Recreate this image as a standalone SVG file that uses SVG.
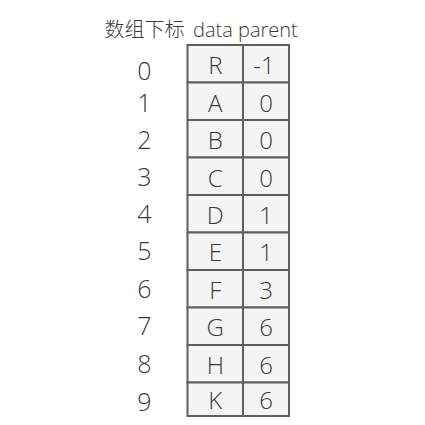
<svg xmlns="http://www.w3.org/2000/svg" width="425" height="425" viewBox="0 0 425 425">
<style>
.t{font-family:"Open Sans","Noto Sans CJK SC",sans-serif;fill:#3a3a3a;font-weight:350}
.h{font-size:20px}
.k{font-weight:300}
.i{font-size:25px;text-anchor:middle}
.c{font-size:24px;text-anchor:middle}
.cell{fill:#f4f4f4;stroke:#5f5f5f;stroke-width:2}
</style>
<rect width="425" height="425" fill="#ffffff"/>
<text class="t h" x="104.5" y="37"><tspan class="k">数组下标</tspan> <tspan x="193">data parent</tspan></text>
<g id="table">
<rect class="cell" x="187.5" y="45" width="55.5" height="37.5"/><rect class="cell" x="243" y="45" width="46" height="37.5"/>
<rect class="cell" x="187.5" y="82.5" width="55.5" height="37.5"/><rect class="cell" x="243" y="82.5" width="46" height="37.5"/>
<rect class="cell" x="187.5" y="120" width="55.5" height="37.5"/><rect class="cell" x="243" y="120" width="46" height="37.5"/>
<rect class="cell" x="187.5" y="157.5" width="55.5" height="37.5"/><rect class="cell" x="243" y="157.5" width="46" height="37.5"/>
<rect class="cell" x="187.5" y="195" width="55.5" height="37.5"/><rect class="cell" x="243" y="195" width="46" height="37.5"/>
<rect class="cell" x="187.5" y="232.5" width="55.5" height="37.5"/><rect class="cell" x="243" y="232.5" width="46" height="37.5"/>
<rect class="cell" x="187.5" y="270" width="55.5" height="37.5"/><rect class="cell" x="243" y="270" width="46" height="37.5"/>
<rect class="cell" x="187.5" y="307.5" width="55.5" height="37.5"/><rect class="cell" x="243" y="307.5" width="46" height="37.5"/>
<rect class="cell" x="187.5" y="345" width="55.5" height="37.5"/><rect class="cell" x="243" y="345" width="46" height="37.5"/>
<rect class="cell" x="187.5" y="382.5" width="55.5" height="33.5"/><rect class="cell" x="243" y="382.5" width="46" height="33.5"/>
</g>
<g id="index">
<text class="t i" x="144.5" y="79.5">0</text>
<text class="t i" x="144.5" y="112">1</text>
<text class="t i" x="144.5" y="149">2</text>
<text class="t i" x="144.5" y="185.5">3</text>
<text class="t i" x="144.5" y="222.5">4</text>
<text class="t i" x="144.5" y="260">5</text>
<text class="t i" x="144.5" y="298">6</text>
<text class="t i" x="144.5" y="335">7</text>
<text class="t i" x="144.5" y="373">8</text>
<text class="t i" x="144.5" y="410.5">9</text>
</g>
<g id="data">
<text class="t c" x="215.3" y="74">R</text><text class="t c" x="264" y="74">-1</text>
<text class="t c" x="215.3" y="111.5">A</text><text class="t c" x="266" y="111.5">0</text>
<text class="t c" x="215.3" y="149">B</text><text class="t c" x="266" y="149">0</text>
<text class="t c" x="215.3" y="186.5">C</text><text class="t c" x="266" y="186.5">0</text>
<text class="t c" x="215.3" y="223.5">D</text><text class="t c" x="266" y="223.5">1</text>
<text class="t c" x="215.3" y="261">E</text><text class="t c" x="266" y="261">1</text>
<text class="t c" x="215.3" y="298.5">F</text><text class="t c" x="266" y="298.5">3</text>
<text class="t c" x="215.3" y="336">G</text><text class="t c" x="266" y="336">6</text>
<text class="t c" x="215.3" y="373.5">H</text><text class="t c" x="266" y="373.5">6</text>
<text class="t c" x="215.3" y="409">K</text><text class="t c" x="266" y="409">6</text>
</g>
</svg>
